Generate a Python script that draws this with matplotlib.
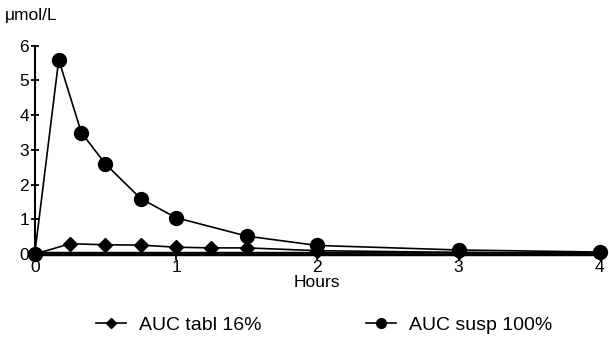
import matplotlib.pyplot as plt

plt.rcParams['font.family'] = ['Liberation Sans', 'DejaVu Sans']

# Data
hours_tabl = [0, 0.25, 0.5, 0.75, 1.0, 1.25, 1.5, 2, 3, 4]
conc_tabl = [0, 0.3, 0.27, 0.26, 0.2, 0.18, 0.18, 0.1, 0.05, 0.02]

hours_susp = [0, 0.17, 0.33, 0.5, 0.75, 1.0, 1.5, 2, 3, 4]
conc_susp = [0, 5.6, 3.5, 2.6, 1.6, 1.05, 0.52, 0.25, 0.12, 0.06]

fig = plt.figure(figsize=(6.09, 3.52), dpi=100)
ax = fig.add_axes([0.057, 0.278, 0.928, 0.592])

ax.plot(hours_tabl, conc_tabl, color='black', lw=1.2, marker='D', ms=7,
        label='AUC tabl 16%', clip_on=False, zorder=3)
ax.plot(hours_susp, conc_susp, color='black', lw=1.2, marker='o', ms=10,
        label='AUC susp 100%', clip_on=False, zorder=3)

ax.set_xlim(0, 4)
ax.set_ylim(0, 6)
ax.set_xticks([0, 1, 2, 3, 4])
ax.set_yticks(range(7))
ax.spines['top'].set_visible(False)
ax.spines['right'].set_visible(False)
ax.spines['left'].set_linewidth(1.5)
# bottom axis drawn as a double line like the scan
ax.spines['bottom'].set_linewidth(3.2)
ax.axhline(0, color='white', lw=0.8, zorder=2.6)
ax.tick_params(axis='y', direction='inout', length=6, width=1.3, pad=1, labelsize=12.5)
ax.tick_params(axis='x', direction='out', length=4, width=1.3, pad=0, labelsize=12.5)

ax.set_xlabel('Hours', fontsize=12.5, labelpad=0)
fig.text(0.008, 0.955, 'μmol/L', fontsize=12.5, va='center', ha='left')

fig.legend(loc='center', bbox_to_anchor=(0.532, 0.077), ncol=2, frameon=False,
           fontsize=14, handlelength=1.55, handletextpad=0.65, columnspacing=5.4,
           markerscale=0.7)

fig.savefig('out.png', dpi=100)
